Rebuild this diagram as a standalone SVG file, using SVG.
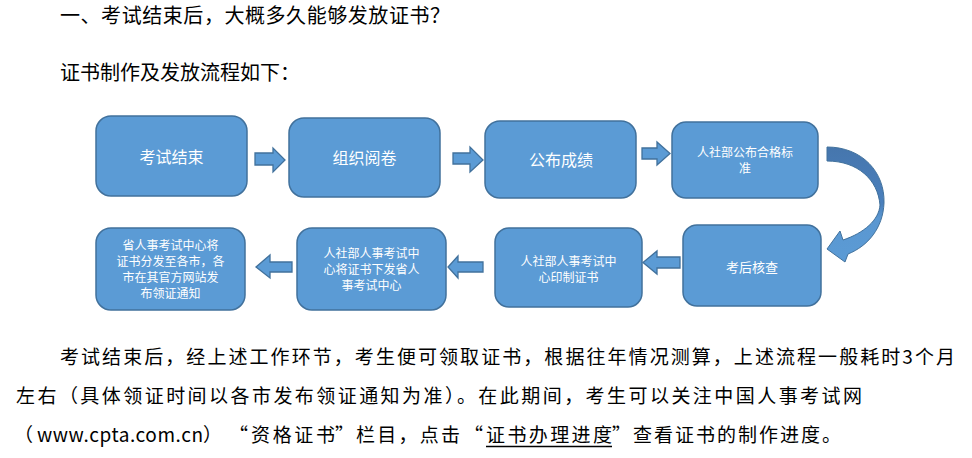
<svg xmlns="http://www.w3.org/2000/svg" width="972" height="458" viewBox="0 0 972 458">
<style>
.bg{fill:#ffffff}
.box{fill:#5b9bd5;stroke:#41719c;stroke-width:1.5}
.arr{fill:#5b9bd5;stroke:#41719c;stroke-width:1.3}
.nt{fill:#ffffff;font-family:"Noto Sans CJK SC","Noto Sans",sans-serif;text-anchor:middle}
.big{font-size:16px}
.sm{font-size:13px}
.xs{font-size:12px}
.body{fill:#000000;font-family:"Noto Sans CJK SC","Noto Sans",sans-serif;font-size:20px}
.para{fill:#000000;font-family:"Noto Sans CJK SC","Noto Sans",sans-serif;font-size:19px}
</style>
<defs>
<linearGradient id="cg" x1="0" y1="147" x2="0" y2="262" gradientUnits="userSpaceOnUse">
<stop offset="0" stop-color="#4676ad"/>
<stop offset="0.5" stop-color="#4a80bd"/>
<stop offset="0.62" stop-color="#5a97d1"/>
<stop offset="1" stop-color="#5b9bd5"/>
</linearGradient>
</defs>
<rect class="bg" x="0" y="0" width="972" height="458"/>

<text class="body" x="60" y="23" textLength="390" lengthAdjust="spacing">一、考试结束后，大概多久能够发放证书？</text>
<text class="body" x="60" y="80" textLength="240" lengthAdjust="spacing">证书制作及发放流程如下：</text>

<g id="connectors">
<polygon class="arr" points="255,153 273,153 273,148 285,160 273,172 273,165 255,165"/>
<polygon class="arr" points="453,153 470,153 470,147 483,160 470,172 470,164 453,164"/>
<polygon class="arr" points="642,148 657,148 657,142 670,153.5 657,165 657,159 642,159"/>
<path fill="url(#cg)" stroke="#41719c" stroke-width="1" d="M827,147 C862,147 885,172 884,203 C883,228 868,246 848,254 L845,262 L827,249 L840,231 L843,240 C864,233 879,220 880,205 C878,180 858,161 827,161 Z"/>
<polygon class="arr" points="680,257 657,257 657,251 643,262.5 657,274 657,268 680,268"/>
<polygon class="arr" points="483,262 458,262 458,256 448,267 458,278 458,272 483,272"/>
<polygon class="arr" points="292,262 270,262 270,255 256,267 270,278 270,272 292,272"/>
</g>

<g id="node1">
<rect class="box" x="96" y="116" width="151" height="80" rx="15"/>
<text class="nt big" x="171.5" y="163">考试结束</text>
</g>
<g id="node2">
<rect class="box" x="289" y="118" width="151" height="79" rx="15"/>
<text class="nt big" x="364.5" y="164">组织阅卷</text>
</g>
<g id="node3">
<rect class="box" x="485" y="121" width="151" height="77" rx="15"/>
<text class="nt big" x="561" y="166">公布成绩</text>
</g>
<g id="node4">
<rect class="box" x="672" y="122" width="146" height="76" rx="14"/>
<text class="nt xs" x="745" y="157">人社部公布合格标</text>
<text class="nt xs" x="745" y="173">准</text>
</g>
<g id="node5">
<rect class="box" x="683" y="225" width="138" height="81" rx="14"/>
<text class="nt sm" x="752" y="272">考后核查</text>
</g>
<g id="node6">
<rect class="box" x="495" y="228" width="147" height="79" rx="14"/>
<text class="nt xs" x="568.5" y="266">人社部人事考试中</text>
<text class="nt xs" x="568.5" y="282">心印制证书</text>
</g>
<g id="node7">
<rect class="box" x="297" y="228" width="149" height="82" rx="15"/>
<text class="nt xs" x="371.5" y="258">人社部人事考试中</text>
<text class="nt xs" x="371.5" y="274">心将证书下发省人</text>
<text class="nt xs" x="371.5" y="290">事考试中心</text>
</g>
<g id="node8">
<rect class="box" x="96" y="228" width="149" height="82" rx="15"/>
<text class="nt xs" x="170.5" y="250">省人事考试中心将</text>
<text class="nt xs" x="170.5" y="266">证书分发至各市，各</text>
<text class="nt xs" x="170.5" y="282">市在其官方网站发</text>
<text class="nt xs" x="170.5" y="298">布领证通知</text>
</g>

<text class="para" x="60" y="364" textLength="895" lengthAdjust="spacing">考试结束后，经上述工作环节，考生便可领取证书，根据往年情况测算，上述流程一般耗时3个月</text>
<text class="para" x="16" y="403" textLength="846" lengthAdjust="spacing">左右（具体领证时间以各市发布领证通知为准）。在此期间，考生可以关注中国人事考试网</text>
<text class="para" y="442"><tspan x="14">（</tspan><tspan x="37" textLength="166" lengthAdjust="spacing">www.cpta.com.cn</tspan><tspan x="203">）</tspan><tspan x="229">“</tspan><tspan x="251" textLength="84" lengthAdjust="spacing">资格证书</tspan><tspan x="335">”</tspan><tspan x="356" textLength="104" lengthAdjust="spacing">栏目，点击</tspan><tspan x="464">“</tspan><tspan x="486" textLength="126" lengthAdjust="spacing">证书办理进度</tspan><tspan x="612">”</tspan><tspan x="633" textLength="208" lengthAdjust="spacing">查看证书的制作进度。</tspan></text>
<line x1="486" y1="446.5" x2="612" y2="446.5" stroke="#000000" stroke-width="1.5"/>
</svg>
